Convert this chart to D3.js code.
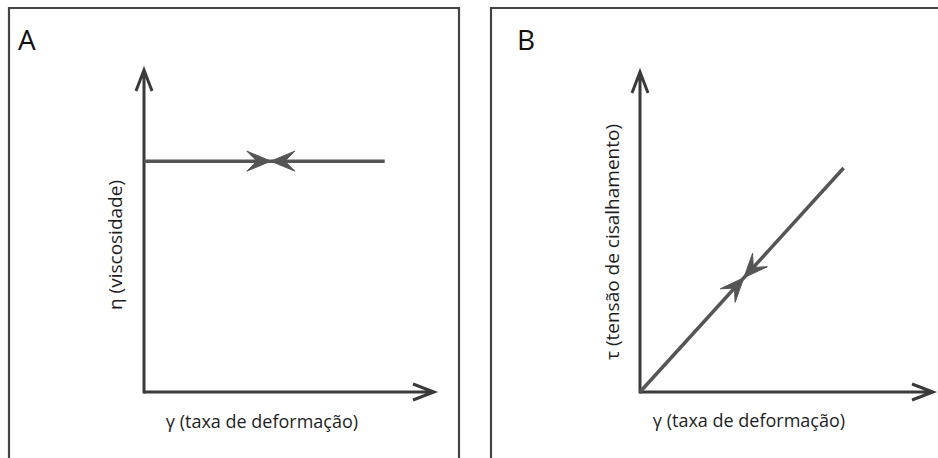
<!DOCTYPE html>
<html><head><meta charset="utf-8">
<script src="https://cdn.jsdelivr.net/npm/d3@7"></script>
<style>body{margin:0;background:#fff}svg{display:block}</style>
</head><body>
<svg id="c" width="938" height="458"></svg>
<script>
// ---- data ----
const panelLabels = ["A", "B"];
const xLabels = ["γ (taxa de deformação)", "γ (taxa de deformação)"];
const yLabels = ["η (viscosidade)", "τ (tensão de cisalhamento)"];
// Panel A: constant viscosity vs shear rate
const viscX = [0, 0.83];
const viscY = [0.717, 0.717];
const viscMeet = 0.527;   // fraction along the line where arrows meet
// Panel B: shear stress proportional to shear rate
const stressX = [0, 0.695];
const stressY = [0, 0.70];
const stressMeet = 0.51;

// ---- layout ----
const panels = [
  {box:{x0:9, y0:8, x1:459, y1:462}, xr:[144,434], yr:[392,70], lab:[18,50],
   ylab:[122,245], xlab:[262,428], xs:viscX, ys:viscY, meet:viscMeet},
  {box:{x0:491, y0:8, x1:950, y1:462}, xr:[640,933], yr:[392,72], lab:[517,50],
   ylab:[619,242], xlab:[749,427], xs:stressX, ys:stressY, meet:stressMeet}
];

const svg = d3.select("#c");
const axisCol = "#3a3a3a", lineCol = "#555", txtCol = "#1e1e1e";
const font = "'Open Sans', 'Noto Sans', sans-serif";

panels.forEach((p, i) => {
  const g = svg.append("g");
  const b = p.box;
  g.append("path")
    .attr("d", `M${b.x0},${b.y1}V${b.y0}H${b.x1}V${b.y1}`)
    .attr("fill", "none").attr("stroke", "#444").attr("stroke-width", 2.2);

  const x = d3.scaleLinear().domain([0,1]).range(p.xr);
  const y = d3.scaleLinear().domain([0,1]).range(p.yr);

  const openHead = (tx, ty, ux, uy, L, W) => {
    const nx = -uy, ny = ux;
    return `M${tx - ux*L + nx*W},${ty - uy*L + ny*W}L${tx},${ty}L${tx - ux*L - nx*W},${ty - uy*L - ny*W}`;
  };
  const ox = x(0), oy = y(0);
  g.append("path")
    .attr("d", `M${ox},${oy}L${x(1)},${oy}` + openHead(x(1), oy, 1, 0, 21, 8))
    .attr("fill", "none").attr("stroke", axisCol).attr("stroke-width", 3);
  g.append("path")
    .attr("d", `M${ox},${oy+1.5}L${ox},${y(1)}` + openHead(ox, y(1), 0, -1, 21, 8))
    .attr("fill", "none").attr("stroke", axisCol).attr("stroke-width", 3);

  const line = d3.line().x(d => x(d[0])).y(d => y(d[1]));
  const pts = p.xs.map((v, k) => [v, p.ys[k]]);
  g.append("path").attr("d", line(pts))
    .attr("fill", "none").attr("stroke", lineCol).attr("stroke-width", 3.5);

  const sx = x(pts[0][0]), sy = y(pts[0][1]);
  const ex = x(pts[1][0]), ey = y(pts[1][1]);
  const len = Math.hypot(ex - sx, ey - sy);
  const ux = (ex - sx)/len, uy = (ey - sy)/len, nx = -uy, ny = ux;
  const mx = sx + (ex - sx)*p.meet, my = sy + (ey - sy)*p.meet;
  const L = 24, W = 10, N = 14;
  const barb = (dir) => {
    const bx = mx - dir*ux*L, by = my - dir*uy*L;
    const kx = mx - dir*ux*N, ky = my - dir*uy*N;
    return `M${mx},${my}L${bx + nx*W},${by + ny*W}L${kx},${ky}L${bx - nx*W},${by - ny*W}Z`;
  };
  [1, -1].forEach(dir => {
    g.append("path").attr("d", barb(dir)).attr("fill", lineCol)
      .attr("stroke", lineCol).attr("stroke-width", 1);
  });

  g.append("text").attr("x", p.lab[0]).attr("y", p.lab[1])
    .attr("font-family", font).attr("font-size", 28).attr("fill", "#111")
    .text(panelLabels[i]);
  g.append("text").attr("transform", `translate(${p.ylab[0]},${p.ylab[1]}) rotate(-90)`)
    .attr("text-anchor", "middle").attr("font-family", font).attr("font-size", 19)
    .attr("fill", txtCol).text(yLabels[i]);
  g.append("text").attr("x", p.xlab[0]).attr("y", p.xlab[1])
    .attr("text-anchor", "middle").attr("font-family", font).attr("font-size", 18)
    .attr("fill", txtCol).text(xLabels[i]);
});
</script>
</body></html>
